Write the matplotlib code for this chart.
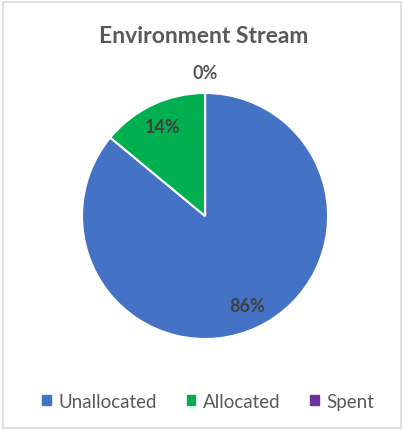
import numpy as np
import matplotlib.pyplot as plt
from matplotlib.patches import Rectangle

labels = ['Unallocated', 'Allocated', 'Spent']
values = [86, 14, 0]
colors = ['#4472C4', '#00B050', '#7030A0']
title = 'Environment Stream'

plt.rcParams['font.family'] = ['Lato', 'DejaVu Sans']

fig = plt.figure(figsize=(4.04, 4.31), dpi=100)
fig.patches.append(Rectangle((0.008, 0.005), 0.984, 0.988, transform=fig.transFigure,
                             fill=False, edgecolor='#d9d9d9', linewidth=1.2))

ax = fig.add_axes([0.203, 0.211, 0.609, 0.571])
wedges, texts, autotexts = ax.pie(values, colors=colors, startangle=90, counterclock=False,
                                  autopct='%1.0f%%', pctdistance=0.8,
                                  wedgeprops=dict(edgecolor='white', linewidth=1.5),
                                  textprops=dict(color='#404040', fontsize=13, fontweight='bold'))
# Excel puts labels of tiny slices outside the pie
for w, t, v in zip(wedges, autotexts, values):
    if v < 5:
        ang = np.deg2rad((w.theta1 + w.theta2) / 2)
        t.set_position((1.17 * np.cos(ang), 1.17 * np.sin(ang)))
        t.set_color('#595959')
ax.set_xlim(-1, 1)
ax.set_ylim(-1, 1)
ax.set_aspect('equal')

fig.text(0.505, 0.916, title, ha='center', va='center', fontsize=16.5,
         fontweight='bold', color='#595959')

handles = [Rectangle((0, 0), 1, 1, color=c) for c in colors]
fig.legend(handles, labels, loc='center', bbox_to_anchor=(0.515, 0.067), ncol=3,
           frameon=False, fontsize=13.5, handlelength=0.45, handleheight=0.45,
           handletextpad=0.4, columnspacing=1.6, labelcolor='#595959')

fig.savefig('out.png', dpi=100)
